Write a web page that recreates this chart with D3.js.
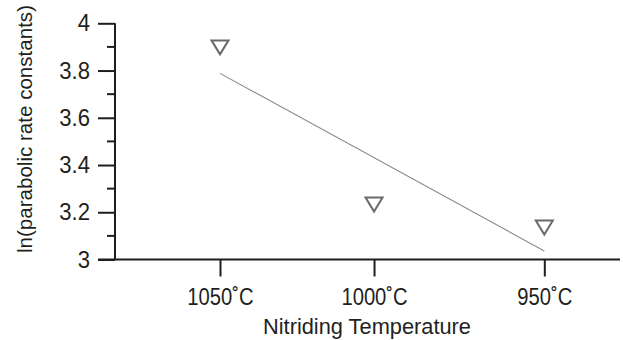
<!DOCTYPE html>
<html>
<head>
<meta charset="utf-8">
<script src="https://cdn.jsdelivr.net/npm/d3@7"></script>
<style>
  html, body { margin: 0; padding: 0; background: #fff; }
  svg { display: block; }
  text { font-family: "Liberation Sans", Arial, sans-serif; fill: #231f20; }
</style>
</head>
<body>
<svg id="chart" width="623" height="340"></svg>
<script>
// ---- data ----
const temperaturesC = [1050, 1000, 950];
const tickLabels = ["1050˚C", "1000˚C", "950˚C"];
const lnRateConstants = [3.898, 3.233, 3.135];
const fitTemperaturesC = [1050, 950];
const fitValues = [3.788, 3.036];
const yTicksMajor = [3, 3.2, 3.4, 3.6, 3.8, 4];
const yTicksMinor = [3.1, 3.3, 3.5, 3.7, 3.9];
const xTitle = "Nitriding Temperature";
const yTitle = "ln(parabolic rate constants)";

// ---- layout ----
const svg = d3.select("#chart");
const axisColor = "#1e1e1e";
const fontFam = '"Liberation Sans", Arial, sans-serif';

// x axis: reciprocal temperature
const x = d3.scaleLinear()
  .domain([1 / 1050, 1 / 950])
  .range([220, 544.3]);
const y = d3.scaleLinear()
  .domain([3, 4])
  .range([259.5, 23.3]);

const xAxisLeft = 98, xAxisRight = 620;
const yAxisX = 115;

function squeeze(sel, factor) {
  sel.each(function () {
    const w = this.getComputedTextLength();
    d3.select(this).attr("textLength", w * factor).attr("lengthAdjust", "spacingAndGlyphs");
  });
}

// fit line
svg.append("line")
  .attr("x1", x(1 / fitTemperaturesC[0])).attr("y1", y(fitValues[0]))
  .attr("x2", x(1 / fitTemperaturesC[1])).attr("y2", y(fitValues[1]))
  .attr("stroke", "#8a8a8a").attr("stroke-width", 1.1);

// y axis
const gy = svg.append("g").attr("transform", `translate(${yAxisX},0)`);
gy.append("line").attr("x1", 0).attr("x2", 0).attr("y1", y(4)).attr("y2", y(3))
  .attr("stroke", axisColor).attr("stroke-width", 2);
const yAxis = d3.axisLeft(y).tickValues(yTicksMajor).tickSize(17).tickPadding(8)
  .tickFormat(d => d3.format("")(d));
gy.call(yAxis);
gy.attr("font-size", null).attr("font-family", null);
gy.select(".domain").remove();
gy.selectAll(".tick line").attr("stroke", axisColor).attr("stroke-width", 2);
gy.selectAll(".tick text").attr("font-size", 24).attr("fill", "#231f20")
  .style("font-family", fontFam).call(squeeze, 0.92);
gy.selectAll(".minor").data(yTicksMinor).enter().append("line")
  .attr("class", "minor")
  .attr("x1", -8).attr("x2", 0)
  .attr("y1", d => y(d)).attr("y2", d => y(d))
  .attr("stroke", axisColor).attr("stroke-width", 2);

// x axis
const gx = svg.append("g").attr("transform", `translate(0,${y(3)})`);
gx.append("line").attr("x1", xAxisLeft).attr("x2", xAxisRight).attr("y1", 0).attr("y2", 0)
  .attr("stroke", axisColor).attr("stroke-width", 2);
const xAxis = d3.axisBottom(x)
  .tickValues(temperaturesC.map(t => 1 / t))
  .tickSize(17).tickPadding(10)
  .tickFormat((d, i) => tickLabels[i]);
gx.call(xAxis);
gx.attr("font-size", null).attr("font-family", null);
gx.select(".domain").remove();
gx.selectAll(".tick line").attr("stroke", axisColor).attr("stroke-width", 2);
gx.selectAll(".tick text").attr("font-size", 23.5).attr("fill", "#231f20")
  .attr("y", 45.5).attr("dy", 0)
  .style("font-family", fontFam).call(squeeze, 0.86);

// markers: down-pointing triangles
const triW = 17, triH = 14;
svg.selectAll(".pt").data(temperaturesC).enter().append("path")
  .attr("class", "pt")
  .attr("transform", (d, i) => `translate(${x(1 / d)},${y(lnRateConstants[i])})`)
  .attr("d", `M${-triW/2},${-triH/2}L${triW/2},${-triH/2}L0,${triH/2}Z`)
  .attr("fill", "none").attr("stroke", "#6a6a6a").attr("stroke-width", 2)
  .attr("stroke-linejoin", "miter");

// titles
svg.append("text")
  .attr("x", 367).attr("y", 334)
  .attr("text-anchor", "middle").attr("font-size", 22.5)
  .attr("textLength", 208).attr("lengthAdjust", "spacingAndGlyphs")
  .text(xTitle);
svg.append("text")
  .attr("transform", "translate(31.5,129) rotate(-90)")
  .attr("text-anchor", "middle").attr("font-size", 20.8)
  .attr("textLength", 248).attr("lengthAdjust", "spacingAndGlyphs")
  .text(yTitle);
</script>
</body>
</html>
